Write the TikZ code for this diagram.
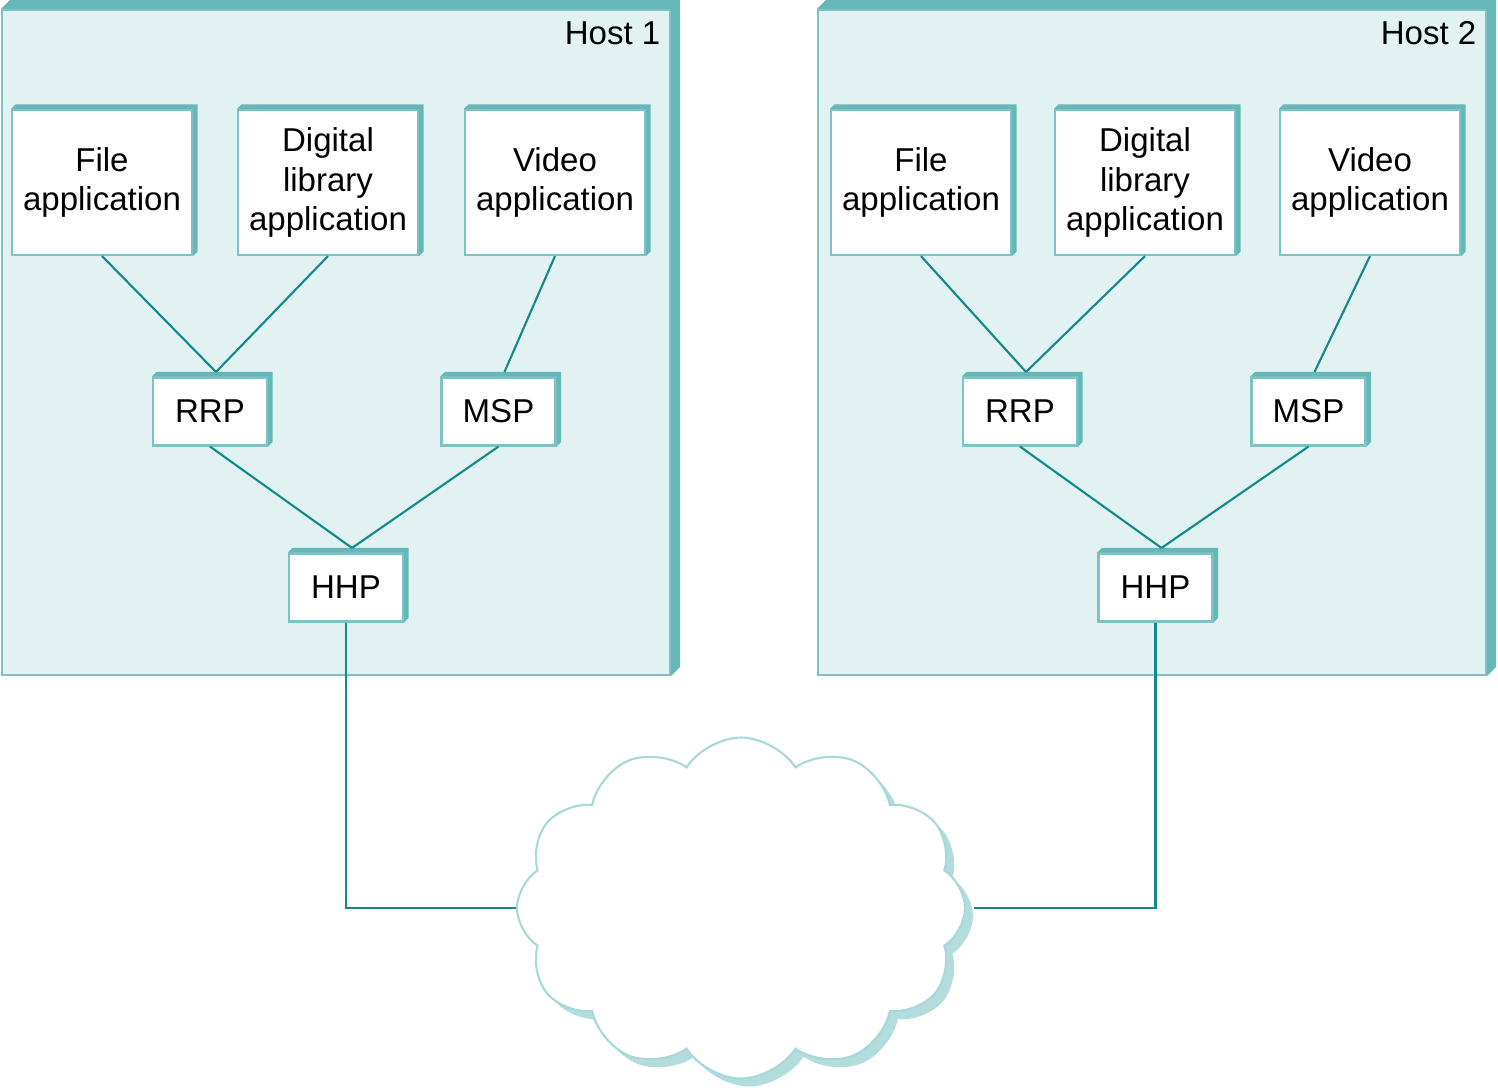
\documentclass[tikz,border=0pt]{standalone}
\usepackage{fontspec}
\setmainfont{Liberation Sans}
\usetikzlibrary{calc,shapes.symbols,shadows}
\definecolor{hostfill}{HTML}{E2F2F2}
\definecolor{rim}{HTML}{66B8B8}
\definecolor{wire}{HTML}{13898A}
\definecolor{cloudline}{HTML}{A8D8D8}
\definecolor{cloudshade}{HTML}{B3DDDD}

\begin{document}
\begin{tikzpicture}[
  font=\fontsize{9.4}{11.3}\selectfont,
  host/.style={draw=rim!85, line width=.6pt, fill=hostfill, minimum width=6.68cm, minimum height=6.65cm, inner sep=0pt},
  app/.style={draw=rim!85, line width=.6pt, fill=white, align=center, minimum width=1.80cm, minimum height=1.45cm, inner sep=1pt},
  proto/.style={draw=rim!85, line width=.6pt, fill=white, minimum width=1.14cm, minimum height=.68cm, inner sep=1pt},
  wire/.style={draw=wire, line width=.6pt}
]
\useasboundingbox (0,0) rectangle (14.98,-10.9);

% the two hosts
\node[host] (h1) at (3.36,-3.425) {};
\node[host] (h2) at (11.52,-3.425) {};
\foreach \n in {h1,h2}
  \fill[rim] (\n.north west) -- ++(.09,.09) -| ($(\n.south east)+(.09,.09)$) -- (\n.south east) -- (\n.north east) -- cycle;
\node[anchor=north east, inner sep=0pt] (h1lab) at ([shift={(-.1,-.12)}]h1.north east) {Host 1};
\node[anchor=north east, inner sep=0pt] (h2lab) at ([shift={(-.1,-.12)}]h2.north east) {Host 2};

% applications
\node[app] (fa1) at (1.02,-1.825) {File\\application};
\node[app] (dl1) at (3.28,-1.825) {Digital\\library\\application};
\node[app] (va1) at (5.55,-1.825) {Video\\application};
\node[app] (fa2) at (9.21,-1.825) {File\\application};
\node[app] (dl2) at (11.45,-1.825) {Digital\\library\\application};
\node[app] (va2) at (13.70,-1.825) {Video\\application};

% protocols
\node[proto] (rrp1) at (2.10,-4.115) {RRP};
\node[proto] (msp1) at (4.985,-4.115) {MSP};
\node[proto] (hhp1) at (3.46,-5.875) {HHP};
\node[proto] (rrp2) at (10.20,-4.115) {RRP};
\node[proto] (msp2) at (13.085,-4.115) {MSP};
\node[proto] (hhp2) at (11.555,-5.875) {HHP};

\foreach \n in {fa1,dl1,va1,fa2,dl2,va2,rrp1,msp1,hhp1,rrp2,msp2,hhp2}
  \fill[rim] (\n.north west) -- ++(.045,.045) -| ($(\n.south east)+(.045,.045)$) -- (\n.south east) -- (\n.north east) -- cycle;

% network
\node[cloud, cloud puffs=12, cloud puff arc=115, aspect=1.3, draw=cloudline, line width=.6pt, fill=white,
  minimum width=4.48cm, minimum height=3.41cm, inner sep=0pt,
  drop shadow={shadow xshift=.08cm, shadow yshift=-.08cm, fill=cloudshade, opacity=1}] (net) at (7.41,-9.08) {};

% links
\foreach \i in {1,2} {
  \draw[wire] (fa\i.south) -- ([shift={(.06,.045)}]rrp\i.north);
  \draw[wire] (dl\i.south) -- ([shift={(.06,.045)}]rrp\i.north);
  \draw[wire] (va\i.south) -- ([shift={(.06,.045)}]msp\i.north);
  \draw[wire] (rrp\i.south) -- ([shift={(.06,.045)}]hhp\i.north);
  \draw[wire] (msp\i.south) -- ([shift={(.06,.045)}]hhp\i.north);
}
\draw[wire] (hhp1.south) |- (net.west);
\draw[wire] (hhp2.south) |- ([xshift=.08cm]net.east);
\end{tikzpicture}
\end{document}
